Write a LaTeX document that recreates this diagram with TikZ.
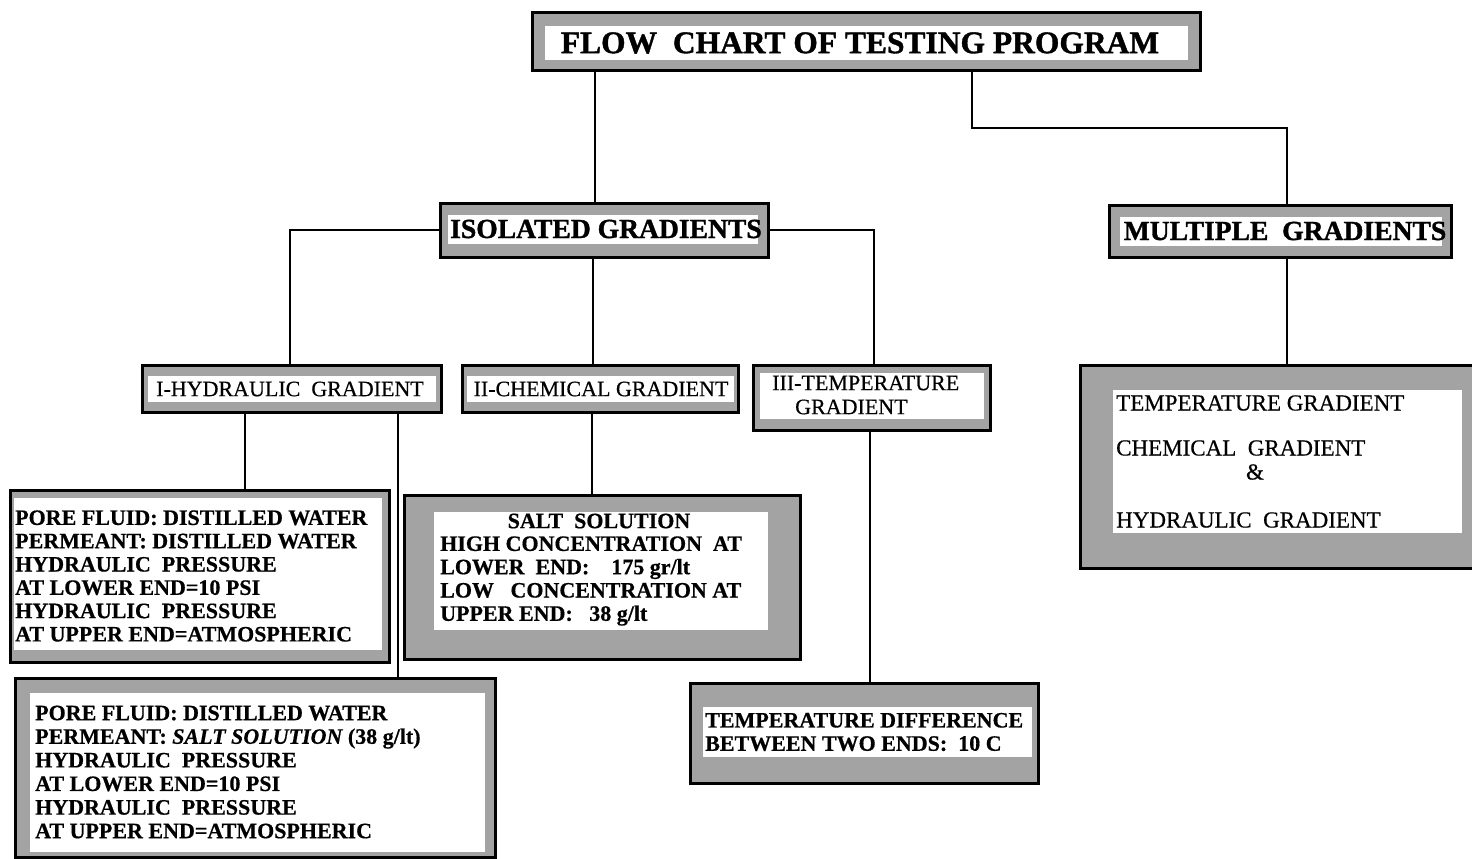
\documentclass[tikz,border=0pt]{standalone}
\usepackage{fontspec}
\setmainfont{Liberation Serif}
\newfontfamily\heavyfont[FakeBold=1.2]{Liberation Serif Bold}
\newfontfamily\boldfont[FakeBold=0.6]{Liberation Serif Bold}
\newfontfamily\boldifont[FakeBold=0.6]{Liberation Serif Bold Italic}
\newfontfamily\medfont[FakeBold=0.5]{Liberation Serif}
\usetikzlibrary{fit}
\tikzset{
 obox/.style={draw=black, line width=3pt, fill=black!36, inner sep=0pt},
 ibox/.style={fill=white, inner sep=0pt},
 conn/.style={line width=2.5pt},
 txt/.style={inner sep=0pt, align=left, anchor=west},
 ctxt/.style={inner sep=0pt, anchor=center},
}
\newcommand\gbox[9]{%
 \node[obox, fit={(#2,#3)(#4,#5)}] (#1) {};
 \node[ibox, fit={(#6,#7)(#8,#9)}] (#1-in) {};}
\newcommand\fTitle{\fontsize{31.5}{33}\selectfont\heavyfont}
\newcommand\fHead{\fontsize{27.6}{30}\selectfont\heavyfont}
\newcommand\fLev{\fontsize{22}{24}\selectfont\medfont}
\newcommand\fBox{\fontsize{22}{23.3}\selectfont\boldfont}
\newcommand\fBoxB{\fontsize{22}{23.6}\selectfont\boldfont}
\newcommand\fBoxE{\fontsize{23}{24}\selectfont\medfont}
\begin{document}
\begin{tikzpicture}[x=1pt,y=-1pt]
\useasboundingbox[fill=white] (0,0) rectangle (1472,859);
% boxes
\gbox{title}{532}{13}{1200}{71}{545}{26}{1188}{60}
\gbox{iso}{440}{203}{768}{257}{448}{215}{758}{244}
\gbox{mult}{1109}{205}{1451}{257}{1120}{217}{1442}{246}
\gbox{hyd}{142}{365}{441}{412}{148}{376}{436}{402}
\gbox{chem}{462}{365}{738}{412}{467}{376}{734}{402}
\gbox{temp}{753}{365}{990}{430}{760}{373}{984}{419}
\gbox{boxa}{10}{490}{389}{662}{14}{498}{382}{650}
\gbox{boxb}{15}{678}{495}{857}{30}{693}{485}{852}
\gbox{boxc}{404}{495}{800}{659}{434}{512}{768}{630}
\gbox{boxd}{690}{683}{1038}{783}{703}{707}{1032}{757}
\gbox{boxe}{1080}{365}{1476}{568}{1113}{390}{1462}{533}
% texts
\node[ctxt, font=\fTitle] (t-title) at (860,43) {FLOW\ \ CHART OF TESTING PROGRAM};
\node[ctxt, font=\fHead] (t-iso) at (606,229) {ISOLATED GRADIENTS};
\node[ctxt, font=\fHead] (t-mult) at (1285,231) {MULTIPLE\ \ GRADIENTS};
\node[ctxt, font=\fLev] (t-hyd) at (290,389) {I-HYDRAULIC\ \ GRADIENT};
\node[ctxt, font=\fLev] (t-chem) at (601,389) {II-CHEMICAL GRADIENT};
\node[txt, font=\fLev] (t-temp) at (772,395) {III-TEMPERATURE\\\hspace*{23pt}GRADIENT};
\node[txt, font=\fBox] (t-a) at (15,576) {PORE FLUID: DISTILLED WATER\\PERMEANT: DISTILLED WATER\\HYDRAULIC\ \ PRESSURE\\AT LOWER END=10 PSI\\HYDRAULIC\ \ PRESSURE\\AT UPPER END=ATMOSPHERIC};
\node[txt, font=\fBoxB] (t-b) at (35,772) {PORE FLUID: DISTILLED WATER\\PERMEANT: {\boldifont SALT SOLUTION} (38 g/lt)\\HYDRAULIC\ \ PRESSURE\\AT LOWER END=10 PSI\\HYDRAULIC\ \ PRESSURE\\AT UPPER END=ATMOSPHERIC};
\node[ctxt, font=\fBox] (t-c1) at (599,521) {SALT\ \ SOLUTION};
\node[txt, font=\fBox] (t-c2) at (440,581) {HIGH CONCENTRATION\ \ AT\\LOWER\ \ END:\ \ \ \ 175 gr/lt\\LOW\ \ \ CONCENTRATION AT\\UPPER END:\ \ \ 38 g/lt};
\node[txt, font=\fBox] (t-d) at (705,732) {TEMPERATURE DIFFERENCE\\BETWEEN TWO ENDS:\ \ 10 C};
\node[txt, font=\fBoxE] (t-e1) at (1116,403) {TEMPERATURE GRADIENT};
\node[txt, font=\fBoxE] (t-e2) at (1116,448) {CHEMICAL\ \ GRADIENT};
\node[ctxt, font=\fBoxE] (t-e3) at (1255,472) {\&};
\node[txt, font=\fBoxE] (t-e4) at (1116,520) {HYDRAULIC\ \ GRADIENT};
% connector columns
\coordinate (xa) at (595,0);
\coordinate (xb) at (972,0);
\coordinate (yb) at (0,128);
\coordinate (xm) at (1287,0);
\coordinate (xh) at (290,0);
\coordinate (xt) at (874,0);
\coordinate (xc) at (593,0);
\coordinate (xha) at (245,0);
\coordinate (xhb) at (398,0);
\coordinate (xcc) at (592,0);
\coordinate (xtd) at (870,0);
% connectors
\draw[conn] (title.south -| xa) -- (iso.north -| xa);
\draw[conn] (title.south -| xb) -- (xb |- yb) -- (xm |- yb) -- (mult.north -| xm);
\draw[conn] (iso.west) -- (iso.west -| xh) -- (hyd.north -| xh);
\draw[conn] (iso.east) -- (iso.east -| xt) -- (temp.north -| xt);
\draw[conn] (iso.south -| xc) -- (chem.north -| xc);
\draw[conn] (hyd.south -| xha) -- (boxa.north -| xha);
\draw[conn] (hyd.south -| xhb) -- (boxb.north -| xhb);
\draw[conn] (chem.south -| xcc) -- (boxc.north -| xcc);
\draw[conn] (temp.south -| xtd) -- (boxd.north -| xtd);
\draw[conn] (mult.south -| xm) -- (boxe.north -| xm);
\end{tikzpicture}
\end{document}
